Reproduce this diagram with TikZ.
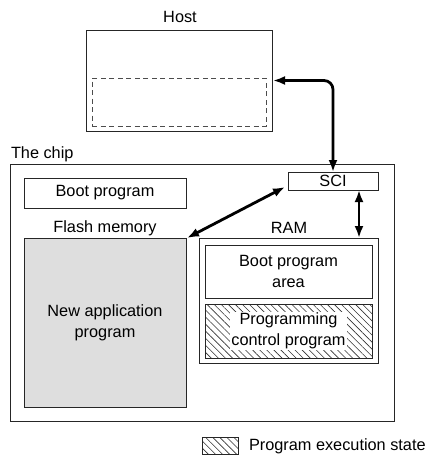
\documentclass[tikz,border=0pt]{standalone}
\usepackage{fontspec}
\setmainfont{Liberation Sans}
\usetikzlibrary{arrows.meta,patterns.meta,calc}
\begin{document}
\begin{tikzpicture}[x=1pt,y=-1pt,
  every node/.style={font=\fontsize{16.3}{21}\selectfont, inner sep=0pt, outer sep=0pt},
  box/.style={draw=black!85, line width=0.8pt, rectangle},
  lbl/.style={text=black},
  hatchbox/.style={box, pattern={Lines[angle=-45,distance=5pt,line width=0.6pt]}, pattern color=black!80},
  arr/.style={line width=2.8pt, {Latex[length=12pt,width=9pt]}-{Latex[length=12pt,width=9pt]}},
]
\useasboundingbox (0,0) rectangle (428,458);
% Host
\node[lbl] (hostlbl) at (180,17) {Host};
\node[box, minimum width=186pt, minimum height=101pt] (host) at (179,80.5) {};
\node[draw=black!70, line width=0.8pt, dash pattern=on 5pt off 3.5pt, minimum width=174pt, minimum height=48pt] (hostin) at (179,102) {};
% Chip
\node[lbl, anchor=west] (chiplbl) at (11,154) {The chip};
\node[box, minimum width=384pt, minimum height=257pt] (chip) at (202,292.5) {};
\node[box, minimum width=162pt, minimum height=30pt] (boot) at (105,193) {Boot program};
\node[box, minimum width=90pt, minimum height=18pt] (sci) at (333,181) {SCI};
\node[lbl] (flashlbl) at (105,228) {Flash memory};
\node[box, fill=black!13, minimum width=162pt, minimum height=169pt, align=center] (flash) at (105,322.5) {New application\\program};
\node[lbl] (ramlbl) at (289,228) {RAM};
\node[box, minimum width=179pt, minimum height=125pt] (ram) at (288.5,300.5) {};
\node[box, minimum width=167pt, minimum height=53pt, align=center] (bootarea) at (288.5,271.5) {Boot program\\area};
\node[hatchbox, minimum width=167pt, minimum height=54pt] (pcp) at (288.5,331) {};
\node[fill=white, align=center, inner sep=1pt] (pcptext) at (288.5,331) {Programming\\control program};
% Connectors
\draw[arr, rounded corners=9pt] (sci.north) |- ([xshift=1pt]host.east);
\draw[arr] ([xshift=-19pt]sci.south east) -- ([xshift=-19pt]ram.north east);
\draw[arr] ([xshift=-3pt,yshift=3pt]sci.south west) -- ([xshift=1pt]flash.north east);
% Legend
\node[hatchbox, minimum width=36pt, minimum height=17pt] (legbox) at (220,445.5) {};
\node[lbl, anchor=west] (legtext) at (249,446) {Program execution state};
\end{tikzpicture}
\end{document}
